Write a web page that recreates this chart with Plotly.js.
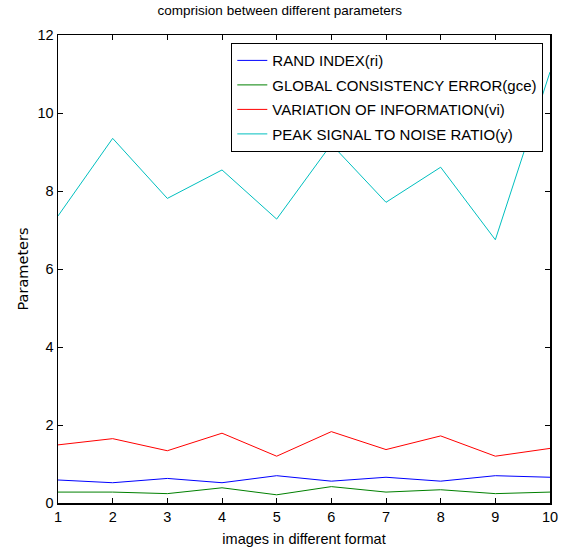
<!DOCTYPE html>
<html>
<head>
<meta charset="utf-8">
<script src="https://cdn.plot.ly/plotly-3.0.1.min.js"></script>
<style>html,body{margin:0;padding:0;background:#fff;}#chart{width:563px;height:553px;}</style>
</head>
<body>
<div id="chart"></div>
<script>
const images = [1, 2, 3, 4, 5, 6, 7, 8, 9, 10];
const randIndex = [0.59, 0.52, 0.63, 0.52, 0.70, 0.56, 0.66, 0.56, 0.70, 0.66];
const gce = [0.28, 0.28, 0.24, 0.39, 0.21, 0.42, 0.28, 0.34, 0.24, 0.28];
const vi = [1.49, 1.65, 1.34, 1.79, 1.20, 1.83, 1.37, 1.72, 1.20, 1.40];
const psnr = [7.36, 9.35, 7.81, 8.54, 7.28, 9.2, 7.71, 8.61, 6.75, 11.05];
const seriesNames = ["RAND INDEX(ri)", "GLOBAL CONSISTENCY ERROR(gce)", "VARIATION OF INFORMATION(vi)", "PEAK SIGNAL TO NOISE RATIO(y)"];
const seriesColors = ["#0000ff", "#008000", "#ff0000", "#00bfbf"];
const seriesValues = [randIndex, gce, vi, psnr];

const traces = seriesValues.map((vals, i) => ({
  x: images, y: vals, type: 'scatter', mode: 'lines',
  name: seriesNames[i], legendgroup: 'g' + i,
  line: {color: seriesColors[i], width: 1}
}));

const nf = 'Liberation Sans, Arial, sans-serif';
const font = (s) => ({family: nf, size: s, color: '#000'});
const layout = {
  width: 563, height: 553,
  margin: {l: 58, r: 13, t: 35, b: 50},
  paper_bgcolor: '#fff', plot_bgcolor: '#fff',
  font: font(14),
  title: {text: 'comprision between different parameters', font: font(13.5), x: 0.497, xanchor: 'center', y: 0.99, yanchor: 'top'},
  showlegend: true,
  legend: {x: 0.986, xanchor: 'right', y: 0.983, yanchor: 'top', bgcolor: '#fff', bordercolor: '#000', borderwidth: 1.2,
    font: font(15), traceorder: 'grouped', tracegroupgap: 2},
  xaxis: {range: [1, 10], tickvals: images, ticks: 'inside', ticklen: 5, tickwidth: 1, tickcolor: '#000',
    showline: true, linecolor: '#000', linewidth: 1.5, mirror: 'ticks', showgrid: false, zeroline: false,
    tickfont: font(14.5),
    title: {text: 'images in different format', font: font(14.5), standoff: 10}},
  yaxis: {range: [0, 12], dtick: 2, ticks: 'inside', ticklen: 5, tickwidth: 1, tickcolor: '#000',
    showline: true, linecolor: '#000', linewidth: 1.5, mirror: 'ticks', showgrid: false, zeroline: false,
    tickfont: font(14.5),
    title: {text: 'Parameters', font: {family: 'DejaVu Sans, sans-serif', size: 14.5, color: '#000'}, standoff: 5}}
};
Plotly.newPlot('chart', traces, layout, {displayModeBar: false, staticPlot: true});
</script>
</body>
</html>
